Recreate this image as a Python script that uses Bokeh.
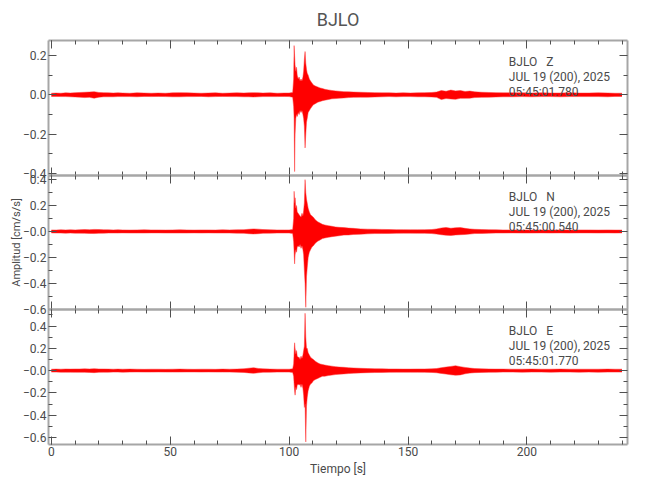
from bokeh.plotting import figure
from bokeh.models import Range1d, LinearAxis, FixedTicker, ColumnDataSource, CustomLabelingPolicy
from bokeh.layouts import column
from bokeh.core.properties import value
from bokeh.embed import file_html
from bokeh.resources import INLINE

# ---------------- data ----------------
STATION = "BJLO"
COMPONENTS = ["Z", "N", "E"]
DATE_TEXT = "JUL 19 (200), 2025"
START_TIMES = ["05:45:01.780", "05:45:00.540", "05:45:01.770"]

# time knots of the trace envelope [s]
T = [0, 2, 4, 6, 8, 10, 12, 14, 16, 18,
     20, 22, 24, 26, 28, 30, 33, 36, 39, 42,
     45, 48, 51, 54, 57, 60, 63, 66, 69, 72,
     75, 78, 81, 83, 85, 87, 89, 92, 95, 98,
     100, 101.5, 101.9, 102.1, 102.3, 102.5, 102.8, 103.1, 103.4, 103.8,
     104.2, 104.6, 105.0, 105.4, 105.8, 106.1, 106.4, 106.7, 107.0, 107.3,
     107.6, 108.0, 108.5, 109.0, 109.6, 110.2, 111, 112, 113, 114,
     115, 116.5, 118, 119.5, 121, 123, 125, 127, 130, 133,
     136, 139, 142, 145, 148, 151, 154, 157, 160, 162,
     164, 166, 168, 170, 172, 174, 176, 178, 181, 184,
     187, 190, 194, 198, 202, 206, 210, 214, 218, 222,
     226, 230, 234, 237, 240]

# Z component: upper / lower envelope [cm/s/s]
Z_UP = [0.008, 0.009, 0.008, 0.010, 0.009, 0.011, 0.012, 0.013, 0.014, 0.016,
        0.012, 0.011, 0.010, 0.009, 0.010, 0.009, 0.008, 0.010, 0.009, 0.008,
        0.009, 0.008, 0.010, 0.011, 0.010, 0.009, 0.008, 0.009, 0.010, 0.008,
        0.009, 0.010, 0.009, 0.010, 0.011, 0.010, 0.009, 0.010, 0.008, 0.009,
        0.009, 0.012, 0.08, 0.25, 0.20, 0.15, 0.12, 0.14, 0.10, 0.08,
        0.09, 0.07, 0.08, 0.07, 0.09, 0.12, 0.18, 0.22, 0.16, 0.13,
        0.11, 0.10, 0.08, 0.07, 0.06, 0.05, 0.045, 0.04, 0.035, 0.032,
        0.028, 0.025, 0.022, 0.020, 0.018, 0.016, 0.015, 0.014, 0.013, 0.012,
        0.011, 0.010, 0.010, 0.009, 0.010, 0.009, 0.010, 0.011, 0.012, 0.014,
        0.022, 0.018, 0.024, 0.020, 0.022, 0.017, 0.019, 0.015, 0.013, 0.012,
        0.011, 0.010, 0.010, 0.010, 0.009, 0.010, 0.009, 0.009, 0.010, 0.009,
        0.009, 0.010, 0.009, 0.008, 0.008]
Z_LO = [-0.008, -0.008, -0.009, -0.009, -0.010, -0.011, -0.012, -0.014, -0.013, -0.017,
        -0.012, -0.010, -0.010, -0.010, -0.009, -0.009, -0.009, -0.010, -0.008, -0.009,
        -0.008, -0.009, -0.010, -0.010, -0.009, -0.009, -0.008, -0.010, -0.009, -0.008,
        -0.009, -0.009, -0.010, -0.010, -0.011, -0.010, -0.009, -0.009, -0.009, -0.008,
        -0.009, -0.012, -0.06, -0.12, -0.39, -0.20, -0.12, -0.10, -0.11, -0.09,
        -0.10, -0.08, -0.09, -0.08, -0.10, -0.12, -0.16, -0.27, -0.20, -0.14,
        -0.12, -0.09, -0.08, -0.07, -0.06, -0.05, -0.045, -0.038, -0.034, -0.030,
        -0.027, -0.024, -0.020, -0.019, -0.017, -0.016, -0.014, -0.013, -0.012, -0.012,
        -0.011, -0.010, -0.009, -0.010, -0.009, -0.009, -0.010, -0.010, -0.011, -0.013,
        -0.024, -0.019, -0.021, -0.023, -0.018, -0.018, -0.017, -0.014, -0.013, -0.012,
        -0.011, -0.010, -0.010, -0.009, -0.010, -0.009, -0.009, -0.010, -0.009, -0.009,
        -0.009, -0.009, -0.010, -0.008, -0.008]

# N component
N_UP = [0.012, 0.011, 0.013, 0.012, 0.013, 0.012, 0.014, 0.015, 0.014, 0.016,
        0.015, 0.013, 0.013, 0.012, 0.013, 0.012, 0.011, 0.012, 0.013, 0.012,
        0.012, 0.011, 0.012, 0.013, 0.012, 0.011, 0.012, 0.012, 0.011, 0.013,
        0.012, 0.013, 0.014, 0.017, 0.020, 0.018, 0.015, 0.013, 0.012, 0.012,
        0.012, 0.015, 0.10, 0.31, 0.22, 0.26, 0.18, 0.20, 0.15, 0.14,
        0.13, 0.12, 0.11, 0.14, 0.12, 0.16, 0.22, 0.40, 0.30, 0.25,
        0.22, 0.18, 0.15, 0.13, 0.12, 0.11, 0.09, 0.075, 0.065, 0.055,
        0.050, 0.045, 0.040, 0.035, 0.032, 0.030, 0.026, 0.024, 0.020, 0.018,
        0.017, 0.016, 0.015, 0.014, 0.014, 0.013, 0.013, 0.014, 0.015, 0.020,
        0.027, 0.031, 0.025, 0.029, 0.030, 0.024, 0.020, 0.017, 0.015, 0.014,
        0.013, 0.012, 0.012, 0.011, 0.012, 0.012, 0.011, 0.012, 0.011, 0.012,
        0.012, 0.011, 0.012, 0.011, 0.011]
N_LO = [-0.011, -0.012, -0.012, -0.013, -0.012, -0.013, -0.013, -0.014, -0.015, -0.016,
        -0.014, -0.013, -0.012, -0.012, -0.012, -0.011, -0.012, -0.012, -0.012, -0.011,
        -0.011, -0.012, -0.012, -0.012, -0.012, -0.011, -0.012, -0.011, -0.012, -0.012,
        -0.012, -0.013, -0.014, -0.017, -0.019, -0.017, -0.014, -0.013, -0.012, -0.012,
        -0.012, -0.015, -0.08, -0.16, -0.25, -0.18, -0.14, -0.16, -0.12, -0.11,
        -0.12, -0.10, -0.13, -0.11, -0.14, -0.18, -0.30, -0.40, -0.585, -0.35,
        -0.28, -0.20, -0.16, -0.14, -0.12, -0.11, -0.09, -0.075, -0.065, -0.055,
        -0.050, -0.045, -0.040, -0.036, -0.033, -0.028, -0.027, -0.023, -0.021, -0.018,
        -0.016, -0.016, -0.015, -0.014, -0.013, -0.013, -0.014, -0.014, -0.016, -0.020,
        -0.025, -0.029, -0.031, -0.027, -0.025, -0.023, -0.020, -0.016, -0.015, -0.013,
        -0.012, -0.012, -0.011, -0.012, -0.012, -0.011, -0.012, -0.011, -0.012, -0.011,
        -0.011, -0.012, -0.011, -0.012, -0.011]

# E component
E_UP = [0.013, 0.014, 0.013, 0.015, 0.014, 0.015, 0.015, 0.016, 0.015, 0.018,
        0.015, 0.015, 0.014, 0.013, 0.014, 0.013, 0.014, 0.013, 0.012, 0.013,
        0.013, 0.012, 0.013, 0.014, 0.013, 0.012, 0.013, 0.013, 0.012, 0.014,
        0.013, 0.014, 0.017, 0.022, 0.026, 0.020, 0.016, 0.014, 0.013, 0.013,
        0.013, 0.016, 0.06, 0.16, 0.25, 0.20, 0.15, 0.18, 0.13, 0.12,
        0.12, 0.10, 0.13, 0.11, 0.14, 0.18, 0.22, 0.515, 0.30, 0.20,
        0.20, 0.16, 0.14, 0.12, 0.11, 0.10, 0.085, 0.07, 0.06, 0.055,
        0.050, 0.045, 0.040, 0.036, 0.032, 0.030, 0.026, 0.024, 0.021, 0.019,
        0.017, 0.016, 0.015, 0.015, 0.014, 0.014, 0.015, 0.015, 0.016, 0.019,
        0.027, 0.032, 0.038, 0.044, 0.036, 0.029, 0.023, 0.019, 0.016, 0.015,
        0.014, 0.014, 0.013, 0.013, 0.014, 0.013, 0.013, 0.014, 0.013, 0.013,
        0.013, 0.013, 0.014, 0.013, 0.013]
E_LO = [-0.013, -0.013, -0.014, -0.014, -0.014, -0.015, -0.015, -0.015, -0.016, -0.018,
        -0.015, -0.014, -0.014, -0.013, -0.013, -0.014, -0.013, -0.012, -0.013, -0.013,
        -0.012, -0.013, -0.013, -0.013, -0.012, -0.012, -0.013, -0.012, -0.013, -0.013,
        -0.013, -0.014, -0.016, -0.020, -0.024, -0.019, -0.015, -0.014, -0.013, -0.013,
        -0.013, -0.016, -0.05, -0.12, -0.18, -0.22, -0.15, -0.17, -0.13, -0.12,
        -0.13, -0.12, -0.15, -0.12, -0.16, -0.22, -0.33, -0.30, -0.64, -0.32,
        -0.24, -0.18, -0.14, -0.12, -0.11, -0.09, -0.08, -0.07, -0.06, -0.05,
        -0.050, -0.044, -0.040, -0.035, -0.032, -0.029, -0.026, -0.023, -0.020, -0.018,
        -0.017, -0.016, -0.015, -0.014, -0.014, -0.014, -0.014, -0.015, -0.016, -0.019,
        -0.025, -0.031, -0.037, -0.041, -0.038, -0.028, -0.022, -0.018, -0.016, -0.015,
        -0.014, -0.013, -0.013, -0.014, -0.013, -0.013, -0.014, -0.013, -0.013, -0.014,
        -0.013, -0.014, -0.013, -0.013, -0.013]

# axis ticks and labels
X_TICKS = [0, 50, 100, 150, 200]
Y_TICKS = [[-0.4, -0.2, 0.0, 0.2],
           [-0.6, -0.4, -0.2, 0.0, 0.2, 0.4],
           [-0.6, -0.4, -0.2, 0.0, 0.2, 0.4]]
Y_TICK_LABELS = [["\u22120.4", "\u22120.2", "0.0", "0.2"],
                 ["\u22120.6", "\u22120.4", "\u22120.2", "\u22120.0", "0.2", "0.4"],
                 ["\u22120.6", "\u22120.4", "\u22120.2", "\u22120.0", "0.2", "0.4"]]

for arr in (Z_UP, Z_LO, N_UP, N_LO, E_UP, E_LO):
    assert len(arr) == len(T), len(arr)

# ---------------- styling / layout ----------------
FONT = "Roboto"
TXT = "#4a4a4a"
AXIS_LINE = "#a6a6a6"
TICK = "#505050"
X_RANGE = (-1.2, 242.3)
Y_RANGES = [(-0.41, 0.276), (-0.602, 0.432), (-0.663, 0.549)]
FRAME_H = [135, 134, 135]
FRAME_W = 579
OVERLAP = 7          # room for tick labels that straddle two panels
NBSP = "\u00a0"

envelopes = [(Z_UP, Z_LO), (N_UP, N_LO), (E_UP, E_LO)]
x_minor = list(range(0, 250, 10))

NO_LABELS_CODE = """
try {
  const r = indices.clone();
  for (let i = 0; i < r.size; i++) r.unset(i);
  return r;
} catch (e) {
  return indices;
}
"""


def style_axis(ax, show_labels):
    ax.axis_line_color = AXIS_LINE
    ax.axis_line_width = 2
    ax.major_tick_line_color = TICK
    ax.minor_tick_line_color = TICK
    ax.major_tick_in = 8
    ax.major_tick_out = 0
    ax.minor_tick_in = 4
    ax.minor_tick_out = 0
    if show_labels:
        ax.major_label_text_font = FONT
        ax.major_label_text_font_size = "12px"
        ax.major_label_text_color = TXT
        ax.major_label_standoff = 2
    else:
        ax.major_label_policy = CustomLabelingPolicy(code=NO_LABELS_CODE)
        ax.major_label_text_font_size = "1px"
        ax.major_label_standoff = 0


panels = []
for i in range(3):
    first = i == 0
    last = i == 2
    kw = {}
    if not first:
        kw["margin"] = (-2 * OVERLAP, 0, 0, 0)
    p = figure(
        frame_width=FRAME_W, frame_height=FRAME_H[i],
        x_range=Range1d(*X_RANGE), y_range=Range1d(*Y_RANGES[i]),
        output_backend="svg", toolbar_location=None,
        x_axis_location=None, y_axis_location=None,
        min_border_left=48, min_border_right=14,
        min_border_top=40 if first else OVERLAP,
        min_border_bottom=36 if last else OVERLAP,
        background_fill_color="white" if first else None,
        border_fill_color="white" if first else None,
        outline_line_color=None,
        title=STATION if first else None,
        **kw,
    )
    p.xgrid.visible = False
    p.ygrid.visible = False
    if first:
        p.title.align = "center"
        p.title.text_font = FONT
        p.title.text_font_size = "18px"
        p.title.text_font_style = "normal"
        p.title.text_color = "#555555"
        p.title.standoff = 13

    yt = Y_TICKS[i]
    y_minor = [round(v + 0.1, 2) for v in yt] + [round(yt[0] - 0.1, 2)]
    overrides = {v: lab for v, lab in zip(yt, Y_TICK_LABELS[i])}

    left = LinearAxis(ticker=FixedTicker(ticks=yt, minor_ticks=y_minor))
    left.major_label_overrides = overrides
    style_axis(left, True)
    left.axis_label = "Amplitud [cm/s/s]" if i == 1 else " "
    left.axis_label_text_font = FONT
    left.axis_label_text_font_size = "11px"
    left.axis_label_text_font_style = "normal"
    left.axis_label_text_color = TXT
    left.axis_label_standoff = -3
    p.add_layout(left, "left")

    right = LinearAxis(ticker=FixedTicker(ticks=yt, minor_ticks=y_minor))
    style_axis(right, False)
    p.add_layout(right, "right")

    top = LinearAxis(ticker=FixedTicker(ticks=X_TICKS, minor_ticks=x_minor))
    style_axis(top, False)
    p.add_layout(top, "above")

    bottom = LinearAxis(ticker=FixedTicker(ticks=X_TICKS, minor_ticks=x_minor))
    style_axis(bottom, last)
    if last:
        bottom.axis_label = "Tiempo [s]"
        bottom.axis_label_text_font = FONT
        bottom.axis_label_text_font_size = "12px"
        bottom.axis_label_text_font_style = "normal"
        bottom.axis_label_text_color = TXT
        bottom.axis_label_standoff = 3
    p.add_layout(bottom, "below")

    up, lo = envelopes[i]
    src = ColumnDataSource(dict(t=T, up=up, lo=lo))
    p.varea(x="t", y1="lo", y2="up", source=src, fill_color="#ff0000", fill_alpha=1.0)
    p.line(x="t", y="up", source=src, line_color="#ff3030", line_width=0.8, line_alpha=0.6)
    p.line(x="t", y="lo", source=src, line_color="#ff3030", line_width=0.8, line_alpha=0.6)

    label = f"{STATION}{NBSP * 3}{COMPONENTS[i]}\n{DATE_TEXT}\n{START_TIMES[i]}"
    p.text(x=[192.4], y=[Y_RANGES[i][1]], text=[label], y_offset=14,
           text_baseline="top", text_align="left", text_font=value(FONT),
           text_font_size="12px", text_color=TXT, text_line_height=1.1)
    panels.append(p)

layout = column(*panels, spacing=0)
open("out.html", "w").write(file_html(layout, INLINE))
